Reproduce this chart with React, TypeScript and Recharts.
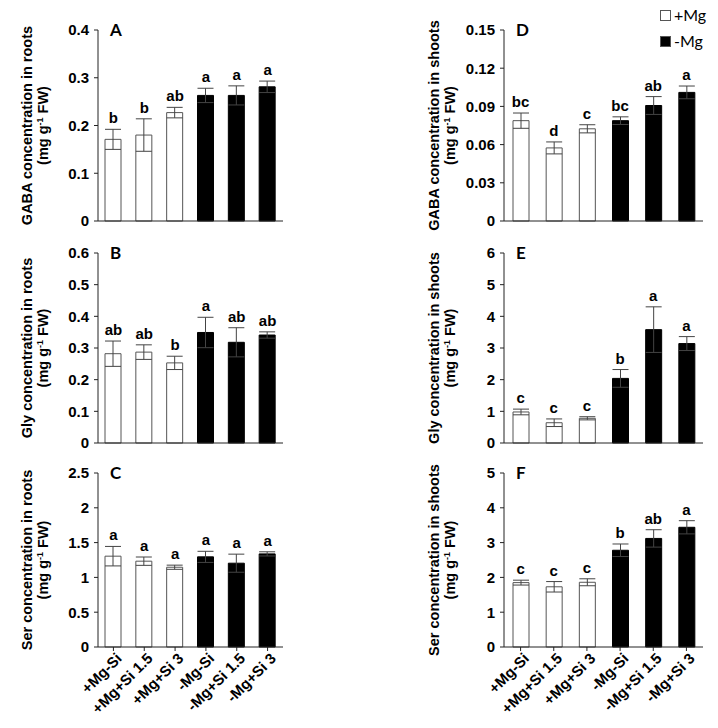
import type { FC } from 'react';

import { Bar, Cell, ComposedChart, ErrorBar, LabelList, Line, XAxis, YAxis } from 'recharts';

const treatments = ['+Mg-Si', '+Mg+Si 1.5', '+Mg+Si 3', '-Mg-Si', '-Mg+Si 1.5', '-Mg+Si 3'];
const mgSupply = ['+Mg', '+Mg', '+Mg', '-Mg', '-Mg', '-Mg'];

const legendItems = ['+Mg', '-Mg'];

// A - GABA roots
const gabaRoots = [0.171, 0.18, 0.227, 0.263, 0.263, 0.281];
const gabaRootsSe = [0.021, 0.034, 0.011, 0.015, 0.02, 0.012];
const gabaRootsLetters = ['b', 'b', 'ab', 'a', 'a', 'a'];
const gabaRootsTicks = [0, 0.1, 0.2, 0.3, 0.4];

// B - Gly roots
const glyRoots = [0.282, 0.287, 0.253, 0.349, 0.318, 0.341];
const glyRootsSe = [0.04, 0.023, 0.021, 0.048, 0.046, 0.01];
const glyRootsLetters = ['ab', 'ab', 'b', 'a', 'ab', 'ab'];
const glyRootsTicks = [0, 0.1, 0.2, 0.3, 0.4, 0.5, 0.6];

// C - Ser roots
const serRoots = [1.305, 1.233, 1.146, 1.295, 1.204, 1.338];
const serRootsSe = [0.14, 0.06, 0.03, 0.08, 0.13, 0.03];
const serRootsLetters = ['a', 'a', 'a', 'a', 'a', 'a'];
const serRootsTicks = [0, 0.5, 1, 1.5, 2, 2.5];

// D - GABA shoots
const gabaShoots = [0.0788, 0.0574, 0.0724, 0.0788, 0.0907, 0.101];
const gabaShootsSe = [0.006, 0.0047, 0.0032, 0.003, 0.007, 0.005];
const gabaShootsLetters = ['bc', 'd', 'c', 'bc', 'ab', 'a'];
const gabaShootsTicks = [0, 0.03, 0.06, 0.09, 0.12, 0.15];

// E - Gly shoots
const glyShoots = [0.98, 0.64, 0.78, 2.04, 3.58, 3.14];
const glyShootsSe = [0.09, 0.12, 0.05, 0.28, 0.72, 0.22];
const glyShootsLetters = ['c', 'c', 'c', 'b', 'a', 'a'];
const glyShootsTicks = [0, 1, 2, 3, 4, 5, 6];

// F - Ser shoots
const serShoots = [1.85, 1.73, 1.86, 2.78, 3.12, 3.44];
const serShootsSe = [0.07, 0.15, 0.1, 0.18, 0.25, 0.19];
const serShootsLetters = ['c', 'c', 'c', 'b', 'ab', 'a'];
const serShootsTicks = [0, 1, 2, 3, 4, 5];

const boldFont = "'Liberation Sans', Arial, sans-serif";

const RotatedTick: FC<any> = ({ x, y, payload }) => (
  <g transform={`translate(${x + 3},${y})`}>
    <text
      textAnchor='end'
      transform='rotate(-45)'
      dy='0.6em'
      fontSize={15}
      fontWeight='bold'
      fontFamily={boldFont}
      fill='#000'
    >
      {payload.value}
    </text>
  </g>
);

const axisTitle = (line1: string, first: number) => (props: any) => {
  const vb = props.viewBox;
  const cy = vb.y + vb.height / 2;
  const b1 = vb.x + first;
  const b2 = b1 + 16;
  return (
    <g fontFamily={boldFont} fontWeight='bold' fontSize={14.5} fill='#000'>
      <text x={b1} y={cy} textAnchor='middle' transform={`rotate(-90, ${b1}, ${cy})`}>
        {line1}
      </text>
      <text x={b2} y={cy} textAnchor='middle' transform={`rotate(-90, ${b2}, ${cy})`}>
        (mg g
        <tspan fontSize={9} dy={-5}>-1</tspan>
        <tspan dy={5}> FW)</tspan>
      </text>
    </g>
  );
};

interface PanelProps {
  values: number[];
  se: number[];
  letters: string[];
  ticks: number[];
  title: string;
  panel: string;
  left: number;
  top: number;
  width: number;
  height: number;
  axisWidth: number;
  marginTop: number;
  marginRight: number;
  titleOffset: number;
  showNames?: boolean;
}

const Panel: FC<PanelProps> = (p) => {
  const data = treatments.map((name, i) => ({
    name,
    value: p.values[i],
    se: p.se[i],
    top: p.values[i] + p.se[i],
    letter: p.letters[i],
  }));
  return (
    <div style={{ position: 'absolute', left: p.left, top: p.top }}>
      <ComposedChart
        width={p.width}
        height={p.height}
        data={data}
        margin={{ top: p.marginTop, right: p.marginRight, left: 0, bottom: 0 }}
      >
        <XAxis
          dataKey='name'
          height={p.showNames ? 80 : 10}
          stroke='#222'
          tickSize={4}
          interval={0}
          tick={p.showNames ? <RotatedTick /> : false}
        />
        <YAxis
          width={p.axisWidth}
          domain={[0, p.ticks[p.ticks.length - 1]]}
          ticks={p.ticks}
          tickFormatter={(v) => `${v}`}
          stroke='#222'
          tickSize={4}
          tickMargin={5}
          tick={{ fill: '#000', fontSize: 15, fontWeight: 'bold', fontFamily: boldFont }}
          label={axisTitle(p.title, p.titleOffset)}
        />
        <Bar dataKey='value' barSize={16} isAnimationActive={false}>
          {data.map((d, i) => (
            <Cell
              key={d.name}
              fill={mgSupply[i] === '+Mg' ? '#fff' : '#000'}
              stroke={mgSupply[i] === '+Mg' ? '#555' : '#000'}
              strokeWidth={1}
            />
          ))}
          <ErrorBar dataKey='se' width={8} stroke='#444' strokeWidth={1} direction='y' />
        </Bar>
        <Line
          dataKey='top'
          stroke='none'
          dot={false}
          activeDot={false}
          legendType='none'
          isAnimationActive={false}
        >
          <LabelList
            dataKey='letter'
            position='top'
            offset={6}
            fill='#000'
            fontSize={15}
            fontWeight='bold'
            fontFamily={boldFont}
          />
        </Line>
      </ComposedChart>
      <div
        style={{
          position: 'absolute',
          left: p.axisWidth + 12,
          top: p.marginTop - 9,
          fontFamily: 'Lato, sans-serif',
          fontWeight: 'bold',
          fontSize: 17,
          lineHeight: 1,
        }}
      >
        {p.panel}
      </div>
    </div>
  );
};

const App: FC = () => {
  const leftCol = { left: 0, width: 300, axisWidth: 98, marginRight: 17, titleOffset: 32 };
  const rightCol = { left: 400, width: 313, axisWidth: 104, marginRight: 10, titleOffset: 39 };
  return (
    <div
      style={{
        position: 'absolute',
        left: 0,
        top: 0,
        width: 718,
        height: 728,
        background: '#fff',
        overflow: 'hidden',
      }}
    >
      <Panel {...leftCol} top={0} height={231} marginTop={30} panel='A' title='GABA concentration in roots'
        values={gabaRoots} se={gabaRootsSe} letters={gabaRootsLetters} ticks={gabaRootsTicks} />
      <Panel {...leftCol} top={240} height={213} marginTop={13} panel='B' title='Gly concentration in roots'
        values={glyRoots} se={glyRootsSe} letters={glyRootsLetters} ticks={glyRootsTicks} />
      <Panel {...leftCol} top={460} height={267} marginTop={13} panel='C' title='Ser concentration in roots'
        values={serRoots} se={serRootsSe} letters={serRootsLetters} ticks={serRootsTicks} showNames />

      <Panel {...rightCol} top={0} height={231} marginTop={30} panel='D' title='GABA concentration in shoots'
        values={gabaShoots} se={gabaShootsSe} letters={gabaShootsLetters} ticks={gabaShootsTicks} />
      <Panel {...rightCol} top={240} height={213} marginTop={13} panel='E' title='Gly concentration in shoots'
        values={glyShoots} se={glyShootsSe} letters={glyShootsLetters} ticks={glyShootsTicks} />
      <Panel {...rightCol} top={460} height={267} marginTop={13} panel='F' title='Ser concentration in shoots'
        values={serShoots} se={serShootsSe} letters={serShootsLetters} ticks={serShootsTicks} showNames />

      {legendItems.map((item, i) => (
        <div
          key={item}
          style={{
            position: 'absolute',
            left: 660,
            top: 5 + i * 26,
            display: 'flex',
            alignItems: 'center',
            fontFamily: 'Lato, sans-serif',
            fontSize: 16,
            lineHeight: '20px',
          }}
        >
          <span
            style={{
              display: 'inline-block',
              width: 9,
              height: 9,
              border: '1px solid #555',
              background: item === '+Mg' ? '#fff' : '#000',
              marginRight: 3,
            }}
          />
          {item}
        </div>
      ))}
    </div>
  );
};

export default App;
